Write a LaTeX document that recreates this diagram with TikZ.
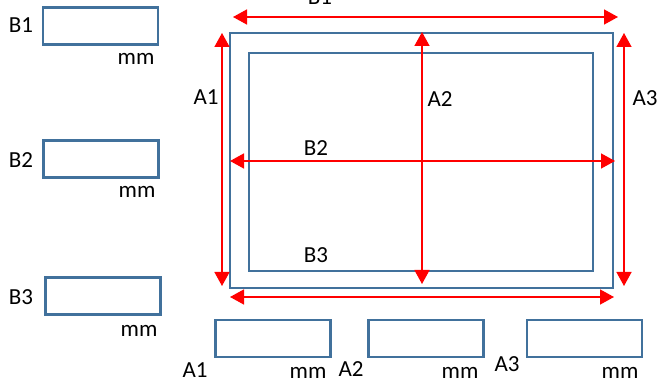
\documentclass[tikz,border=0pt]{standalone}
\usepackage{fontspec}
\setmainfont{Carlito}
\usetikzlibrary{arrows.meta,positioning}
\definecolor{boxblue}{HTML}{41719C}

\begin{document}
\begin{tikzpicture}[
    x=1pt, y=-1pt,
    frame/.style={rectangle, draw=boxblue, line width=2.4pt, inner sep=0pt},
    field/.style={rectangle, draw=boxblue, line width=2.2pt, minimum width=115pt, minimum height=37pt, inner sep=0pt},
    tag/.style={font=\fontsize{23}{26}\selectfont, inner sep=0pt, anchor=base},
    dimarrow/.style={{Triangle[length=14pt,width=15pt]}-{Triangle[length=14pt,width=15pt]}, red, line width=1.5pt}
]
\useasboundingbox (0,0) rectangle (659,382);

% Frames
\node[frame, minimum width=383pt, minimum height=255pt] (outer) at (421.5,160.5) {};
\node[frame, minimum width=344pt, minimum height=218pt] (inner) at (421,162) {};

% Arrow ends
\coordinate (b1l) at (233,17);  \coordinate (b1r) at (618,17);
\coordinate (b2l) at (230,161); \coordinate (b2r) at (615,161);
\coordinate (b3l) at (230,297); \coordinate (b3r) at (614,297);
\coordinate (a1t) at (222,33);  \coordinate (a1b) at (222,286);
\coordinate (a2t) at (422,32);  \coordinate (a2b) at (422,284);
\coordinate (a3t) at (624,33);  \coordinate (a3b) at (624,286);

% Arrows
\draw[dimarrow] (b1l) -- (b1r);
\draw[dimarrow] (b2l) -- (b2r);
\draw[dimarrow] (b3l) -- (b3r);
\draw[dimarrow] (a1t) -- (a1b);
\draw[dimarrow] (a2t) -- (a2b);
\draw[dimarrow] (a3t) -- (a3b);

% Labels on the drawing
\node[tag] (lb1) at (320,5) {B1};
\node[tag] (lb2) at (316,156) {B2};
\node[tag] (lb3) at (316,262) {B3};
\node[tag] (la1) at (206,105) {A1};
\node[tag] (la2) at (440,107) {A2};
\node[tag] (la3) at (645,106) {A3};

% Input fields, left column
\node[field] (fb1) at (100.5,26) {};
\node[field] (fb2) at (101,159) {};
\node[field] (fb3) at (103,296) {};
\node[tag] (nb1) at (21,33) {B1};
\node[tag] (nb2) at (21,168) {B2};
\node[tag] (nb3) at (21,305) {B3};
\node[tag] (mb1) at (136,65) {mm};
\node[tag] (mb2) at (137,198) {mm};
\node[tag] (mb3) at (139,336) {mm};

% Input fields, bottom row
\node[field] (fa1) at (273,338.5) {};
\node[field] (fa2) at (426,338.5) {};
\node[field] (fa3) at (584.5,338.5) {};
\node[tag] (na1) at (195,377) {A1};
\node[tag] (na2) at (351,376) {A2};
\node[tag] (na3) at (507,371) {A3};
\node[tag] (ma1) at (308,378) {mm};
\node[tag] (ma2) at (460,378) {mm};
\node[tag] (ma3) at (620,378) {mm};

\end{tikzpicture}
\end{document}
